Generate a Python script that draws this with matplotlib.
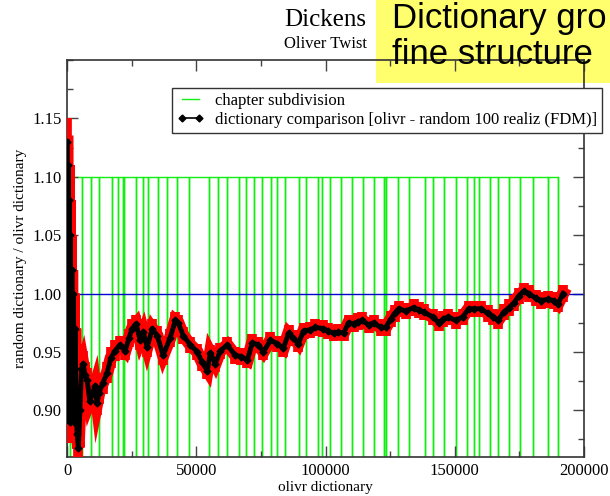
import matplotlib
matplotlib.use("Agg")
from matplotlib import pyplot as plt
from matplotlib.lines import Line2D
from matplotlib.patches import Rectangle
from matplotlib.ticker import MultipleLocator

# chapter boundaries (word position in the text)
chapter_bounds = [0, 970, 5700, 9300, 12500, 17300, 19600, 21600, 22200, 26600,
                  29300, 31500, 35300, 38800, 42400, 47200, 54800, 58300, 62000,
                  66400, 69400, 72500, 75500, 79000, 81300, 84500, 89700, 92600,
                  97000, 98800, 101700, 106000, 110100, 114600, 118700, 122500,
                  123300, 128000, 132300, 138600, 141700, 145900, 150400, 154800,
                  157600, 159400, 163700, 166700, 171000, 175200, 180200, 186200,
                  190000]
chapter_level = 1.10

# dictionary comparison: random / olivr
words = [100, 300, 500, 700, 900, 1100, 1300, 1600,
         1900, 2200, 2500, 2800, 3100, 3500, 3900, 4400,
         5000, 5600, 6200, 7000, 7800, 8800, 10000, 10800,
         11600, 12400, 13800, 15500, 17000, 18600, 20500, 22500,
         24000, 25200, 26700, 28300, 29500, 31000, 33000, 34900,
         37200, 39900, 41900, 43000, 45000, 47700, 50400, 52300,
         54300, 55400, 57400, 59300, 62000, 65100, 67500, 69800,
         71700, 74000, 76000, 78700, 81400, 83700, 85700, 87500,
         89500, 91500, 94000, 96100, 99200, 101000, 103100, 105000,
         107000, 108900, 110900, 112500, 114300, 116700, 118600, 121300,
         123300, 125200, 126800, 128300, 131000, 134100, 136000, 138000,
         141500, 143800, 145500, 147300, 150400, 153100, 155400, 157400,
         160100, 162800, 164800, 166700, 169000, 171000, 172900, 174800,
         176700, 178700, 181400, 183300, 186000, 188400, 189900, 191900]
ratio = [1.130, 0.950, 1.110, 0.920, 1.080, 0.890, 1.050, 0.900,
         1.020, 0.930, 1.000, 0.890, 0.970, 0.910, 0.880, 0.868,
         0.900, 0.935, 0.940, 0.930, 0.926, 0.908, 0.915, 0.921,
         0.906, 0.915, 0.923, 0.932, 0.945, 0.951, 0.956, 0.951,
         0.962, 0.970, 0.974, 0.960, 0.967, 0.954, 0.970, 0.964,
         0.947, 0.962, 0.977, 0.975, 0.964, 0.956, 0.950, 0.941,
         0.934, 0.949, 0.940, 0.951, 0.956, 0.947, 0.946, 0.943,
         0.958, 0.956, 0.950, 0.960, 0.957, 0.953, 0.966, 0.962,
         0.957, 0.968, 0.969, 0.971, 0.970, 0.968, 0.966, 0.967,
         0.966, 0.975, 0.974, 0.976, 0.977, 0.973, 0.975, 0.971,
         0.971, 0.978, 0.983, 0.987, 0.985, 0.988, 0.986, 0.984,
         0.980, 0.975, 0.978, 0.980, 0.977, 0.980, 0.987, 0.987,
         0.987, 0.983, 0.980, 0.977, 0.984, 0.988, 0.992, 0.998,
         1.002, 1.000, 0.996, 0.994, 0.995, 0.994, 0.991, 1.000]
ratio_err = [0.020, 0.018, 0.020, 0.018, 0.016, 0.018, 0.016, 0.015,
             0.015, 0.015, 0.014, 0.015, 0.014, 0.014, 0.013, 0.012,
             0.012, 0.011, 0.011, 0.011, 0.010, 0.010, 0.010, 0.010,
             0.010, 0.010, 0.009, 0.009, 0.009, 0.009, 0.008, 0.008,
             0.008, 0.008, 0.008, 0.008, 0.008, 0.008, 0.008, 0.008,
             0.008, 0.008, 0.007, 0.007, 0.007, 0.007, 0.007, 0.007,
             0.007, 0.007, 0.007, 0.007, 0.007, 0.007, 0.007, 0.007,
             0.007, 0.007, 0.007, 0.007, 0.007, 0.007, 0.007, 0.007,
             0.007, 0.007, 0.007, 0.007, 0.007, 0.007, 0.007, 0.007,
             0.007, 0.007, 0.007, 0.007, 0.007, 0.007, 0.007, 0.007,
             0.007, 0.007, 0.007, 0.007, 0.007, 0.007, 0.007, 0.007,
             0.007, 0.007, 0.007, 0.007, 0.007, 0.007, 0.007, 0.007,
             0.007, 0.007, 0.007, 0.007, 0.007, 0.007, 0.007, 0.007,
             0.007, 0.007, 0.007, 0.007, 0.007, 0.007, 0.007, 0.007]

plt.rcParams['font.family'] = ['Liberation Serif', 'DejaVu Serif']

fig = plt.figure(figsize=(6.10, 4.96), dpi=100)
ax = fig.add_axes([67 / 610, 1 - 457 / 496, 517 / 610, 397 / 496])
ax.set_facecolor('none')

# yellow slide annotation, partly under the top of the frame
fig.patches.append(Rectangle((376 / 610, 1 - 83 / 496), 1 - 376 / 610, 83 / 496,
                             transform=fig.transFigure, facecolor='#ffff6e',
                             edgecolor='none', zorder=-1))
fig.text(392 / 610, 1 - 28 / 496, "Dictionary gro", fontsize=25,
         family=['Liberation Sans', 'DejaVu Sans'], va='baseline')
fig.text(392 / 610, 1 - 64 / 496, "fine structure", fontsize=25,
         family=['Liberation Sans', 'DejaVu Sans'], va='baseline')

fig.text(325 / 610, 1 - 26 / 496, "Dickens", fontsize=18, ha='center', va='baseline')
fig.text(325 / 610, 1 - 48 / 496, "Oliver Twist", fontsize=12, ha='center', va='baseline')

# chapter subdivision as a comb: up to chapter_level at every boundary
cx, cy = [], []
for b in chapter_bounds:
    cx += [b, b, b]
    cy += [chapter_level, 0.8, chapter_level]
ax.plot(cx[1:], cy[1:], color='#11ee11', lw=1, zorder=1)

ax.axhline(1.0, color='#0000cc', lw=1, zorder=2)

ax.errorbar(words, ratio, yerr=ratio_err, fmt='none', ecolor='red',
            elinewidth=7, capsize=0, zorder=3)
ax.plot(words, ratio, color='red', lw=9, solid_joinstyle='miter', zorder=3)
ax.plot(words, ratio, color='black', lw=3.5, marker='D', ms=3.5, zorder=4)

ax.set_xlim(0, 200000)
ax.set_ylim(0.86, 1.2)
ax.xaxis.set_major_locator(MultipleLocator(50000))
ax.xaxis.set_minor_locator(MultipleLocator(25000))
ax.yaxis.set_minor_locator(MultipleLocator(0.025))
ax.set_yticks([0.90, 0.95, 1.00, 1.05, 1.10, 1.15])
ax.set_yticklabels(['0.90', '0.95', '1.00', '1.05', '1.10', '1.15'])
ax.tick_params(which='both', direction='in', top=True, right=True,
               color='#444444', labelsize=12, width=1)
ax.tick_params(which='major', length=8, pad=4)
ax.tick_params(which='minor', length=4.5)
for s in ax.spines.values():
    s.set_color('#333333')
    s.set_linewidth(1.2)

ax.set_xlabel("olivr dictionary", fontsize=11, labelpad=2)
ax.set_ylabel("random dictionary / olivr dictionary", fontsize=11, labelpad=4)

handles = [Line2D([], [], color='#11ee11', lw=1),
           Line2D([], [], color='black', lw=1.2, marker='D', ms=3.5)]
labels = ["chapter subdivision",
          "dictionary comparison [olivr - random 100 realiz (FDM)]"]
leg = ax.legend(handles, labels, loc='upper left', numpoints=2,
                bbox_to_anchor=(172 / 610, 1 - 88 / 496),
                bbox_transform=fig.transFigure, borderaxespad=0,
                fontsize=12, fancybox=False, framealpha=1, edgecolor='#333333',
                labelspacing=0.15, borderpad=0.3, handlelength=1.6,
                handletextpad=0.7)
leg.get_frame().set_linewidth(1)
leg.set_zorder(10)

fig.savefig("out.png", dpi=100)
